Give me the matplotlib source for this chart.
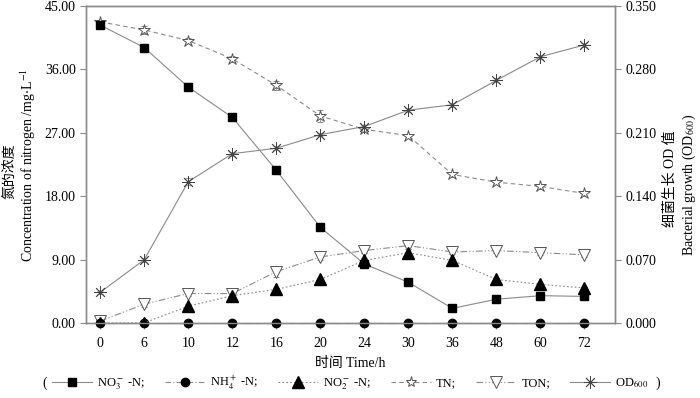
import numpy as np
import matplotlib
matplotlib.use('Agg')
from matplotlib import pyplot as plt
from matplotlib.lines import Line2D

plt.rcParams['font.family'] = ['Liberation Serif', 'Noto Sans CJK SC']
plt.rcParams['mathtext.fontset'] = 'stix'

# data
hours = ['0', '6', '10', '12', '16', '20', '24', '30', '36', '48', '60', '72']
no3 = [42.3, 39.1, 33.5, 29.2, 21.7, 13.6, 8.4, 5.8, 2.1, 3.4, 3.9, 3.8]
nh4 = [0, 0, 0, 0, 0, 0, 0, 0, 0, 0, 0, 0]
no2 = [0, 0.05, 2.4, 3.9, 4.8, 6.2, 8.9, 10.0, 8.9, 6.2, 5.5, 5.0]
tn = [42.75, 41.6, 40.1, 37.5, 33.75, 29.4, 27.5, 26.6, 21.1, 20.0, 19.4, 18.4]
ton = [0.3, 2.7, 4.2, 4.2, 7.3, 9.4, 10.3, 11.0, 10.1, 10.3, 10.0, 9.7]
od = [0.034, 0.070, 0.156, 0.187, 0.193, 0.208, 0.217, 0.235, 0.241, 0.268, 0.294, 0.307]
tn_err = [0.3, 0.6, 0.4, 0.4, 0.6, 0.8, 0.4, 0.3, 0.3, 0.3, 0.3, 0.3]
ton_err = [0.2, 0.4, 0.3, 0.3, 0.8, 0.4, 0.3, 0.5, 0.3, 0.3, 0.3, 0.3]
no2_err = [0, 0, 0.3, 0.2, 0.2, 0.2, 0.3, 0.5, 0.2, 0.2, 0.2, 0.2]
od_err = [0.002, 0.002, 0.004, 0.002, 0.002, 0.002, 0.002, 0.002, 0.002, 0.002, 0.002, 0.002]

gray = '#8a8a8a'
x = np.arange(len(hours))

fig = plt.figure(figsize=(7, 3.98), dpi=100)
ax = fig.add_axes([0.123, 0.188, 0.756, 0.797])
ax2 = ax.twinx()

lw = 0.8
ax.errorbar(x, tn, yerr=tn_err, color=gray, lw=lw, ls=(0, (4, 3)), marker='*', ms=9,
            mfc='white', mec='#555555', mew=0.7, ecolor=gray, elinewidth=0.6, capsize=2.5, zorder=3)
ax.plot(x, no3, color=gray, lw=lw, marker='s', ms=6, mfc='black', mec='black', zorder=4)
ax.plot(x, nh4, color=gray, lw=lw, ls=(0, (5, 2, 1, 2)), marker='o', ms=6, mfc='black', mec='black',
        zorder=4, clip_on=False)
ax.errorbar(x, no2, yerr=no2_err, color=gray, lw=lw, ls=(0, (1.5, 2)), marker='^', ms=8,
            mfc='black', mec='black', ecolor=gray, elinewidth=0.6, capsize=2.5, zorder=4)
ax.errorbar(x, ton, yerr=ton_err, color=gray, lw=lw, ls=(0, (6, 2, 1, 2, 1, 2)), marker='v', ms=9,
            mfc='white', mec='#555555', mew=0.7, ecolor=gray, elinewidth=0.6, capsize=2.5, zorder=3)
ax2.errorbar(x, od, yerr=od_err, color=gray, lw=lw, marker=(8, 2, 0), ms=9, mec='#444444', mew=0.6,
             ecolor=gray, elinewidth=0.6, capsize=2.5, zorder=3)

ax.set_xlim(-0.32, 11.7)
ax.set_ylim(0, 45)
ax2.set_ylim(0, 0.35)
ax.set_xticks(x)
ax.set_xticklabels(hours)
ax.set_yticks(np.arange(0, 45.01, 9))
ax.set_yticklabels(['%.2f' % v for v in np.arange(0, 45.01, 9)])
ax2.set_yticks(np.arange(0, 0.3501, 0.07))
ax2.set_yticklabels(['%.3f' % v for v in np.arange(0, 0.3501, 0.07)])

for a in (ax, ax2):
    for s in a.spines.values():
        s.set_color(gray)
        s.set_linewidth(1.0)
    a.tick_params(colors=gray, labelcolor='black', labelsize=10, length=4, width=0.8)
ax.tick_params(axis='x', pad=6)

ax.set_xlabel('时间 Time/h', fontsize=10, labelpad=5)

# axis titles, two lines each
fig.text(0.014, 0.57, '氮的浓度', rotation=90, fontsize=10, ha='center', va='center')
fig.text(0.040, 0.585, 'Concentration of nitrogen /mg$\\cdot$L$^{-1}$', rotation=90, fontsize=10,
         ha='center', va='center')
fig.text(0.957, 0.55, '细菌生长 OD 值', rotation=90, fontsize=10, ha='center', va='center')
fig.text(0.985, 0.535, 'Bacterial growth (OD$_{600}$)', rotation=90, fontsize=10,
         ha='center', va='center')

handles = [
    Line2D([], [], color=gray, lw=lw, marker='s', ms=6, mfc='black', mec='black'),
    Line2D([], [], color=gray, lw=lw, ls=(0, (5, 2, 1, 2)), marker='o', ms=6, mfc='black', mec='black'),
    Line2D([], [], color=gray, lw=lw, ls=(0, (1.5, 2)), marker='^', ms=8, mfc='black', mec='black'),
    Line2D([], [], color=gray, lw=lw, ls=(0, (4, 3)), marker='*', ms=8, mfc='white', mec='#555555', mew=0.7),
    Line2D([], [], color=gray, lw=lw, ls=(0, (6, 2, 1, 2, 1, 2)), marker='v', ms=8, mfc='white',
           mec='#555555', mew=0.7),
    Line2D([], [], color=gray, lw=lw, marker=(8, 2, 0), ms=9, mec='#444444', mew=0.6),
]
labels = ['NO$_3^-$ -N;', 'NH$_4^+$ -N;', 'NO$_2^-$ -N;', 'TN;', 'TON;', 'OD$_{600}$']
fig.legend(handles, labels, loc='center', bbox_to_anchor=(0.5, 0.038), ncol=6, frameon=False,
           fontsize=9, handlelength=3.2, columnspacing=1.6, handletextpad=0.4)
fig.text(0.06, 0.038, '(', fontsize=10, va='center')
fig.text(0.937, 0.038, ')', fontsize=10, va='center')

fig.savefig('out.png', dpi=100)
